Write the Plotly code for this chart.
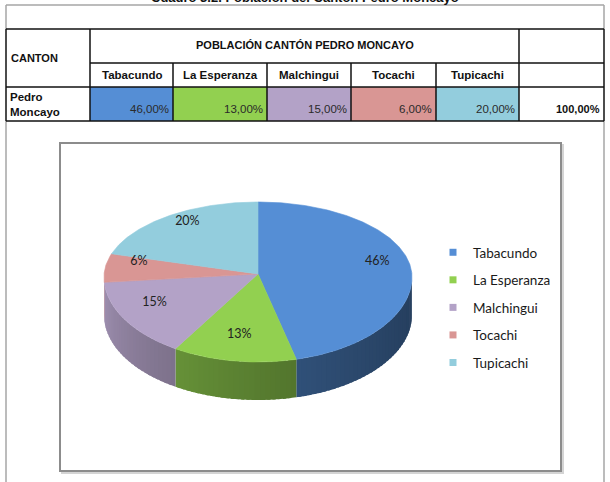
import numpy as np
import plotly.graph_objects as go

# ---------------- data ----------------
categories = ["Tabacundo", "La Esperanza", "Malchingui", "Tocachi", "Tupicachi"]
shares = [46, 13, 15, 6, 20]
colors = ["#558ED5", "#92D050", "#B3A2C7", "#D99694", "#93CDDD"]
title_text = "Cuadro 3.2. Población del Cantón Pedro Moncayo"
header_text = "POBLACIÓN CANTÓN PEDRO MONCAYO"
first_col_label = "CANTON"
row_label = "Pedro<br>Moncayo"

# ---------------- layout geometry (pixels) ----------------
W, H = 610, 482
CX, CY = 258, 277
A, B_BACK, B_FRONT = 154, 75, 85
DEPTH = 38
APEX_Y = 274
col_edges = [90, 173, 267, 351, 436, 519]
TL, TR = 6, 604
ROW_Y = [5, 29, 63, 87, 121]


def ellipse(theta_deg):
    t = np.radians(np.asarray(theta_deg, dtype=float))
    c = np.cos(t)
    x = CX + A * np.sin(t)
    y = CY - np.where(c > 0, B_BACK, B_FRONT) * c
    return x, y


def rgb(hexc):
    hexc = hexc.lstrip("#")
    return [int(hexc[k:k + 2], 16) for k in (0, 2, 4)]


def shade(hexc, f):
    return "rgb(%d,%d,%d)" % tuple(int(round(v * f)) for v in rgb(hexc))


fig = go.Figure()
total = sum(shares)
bounds = np.concatenate([[0], np.cumsum(shares)]) / total * 360.0

# ---- sides of the 3D pie (front half only), drawn as overlapping shaded strips ----
for i, (s, e) in enumerate(zip(bounds[:-1], bounds[1:])):
    lo, hi = max(s, 90.0), min(e, 270.0)
    if hi <= lo:
        continue
    n = max(1, int(np.ceil((hi - lo) / 2.0)))
    edges = np.linspace(lo, hi, n + 1)
    for a0, a1 in zip(edges[:-1], edges[1:]):
        a1x = min(a1 + 1.2, hi)  # overlap the next strip to hide seams
        th = np.linspace(a0, a1x, 4)
        xs, ys = ellipse(th)
        px = np.concatenate([xs, xs[::-1]])
        py = np.concatenate([ys, ys[::-1] + DEPTH])
        t = ((a0 + a1) / 2 - 90) / 180.0
        f = 0.44 + 0.46 * t ** 1.5
        col = shade(colors[i], f)
        fig.add_trace(go.Scatter(x=px, y=py, fill="toself", fillcolor=col, mode="lines",
                                 line=dict(width=0), hoverinfo="skip",
                                 showlegend=False))

# ---- top slices ----
for i, (s, e) in enumerate(zip(bounds[:-1], bounds[1:])):
    th = np.linspace(s, e, max(8, int((e - s) * 1.5)))
    xs, ys = ellipse(th)
    px = np.concatenate([[CX], xs, [CX]])
    py = np.concatenate([[APEX_Y], ys, [APEX_Y]])
    fig.add_trace(go.Scatter(x=px, y=py, fill="toself", fillcolor=colors[i], mode="lines",
                             line=dict(color=colors[i], width=0.6), name=categories[i],
                             hoverinfo="name", showlegend=False))

# ---- slice labels ----
mids = (bounds[:-1] + bounds[1:]) / 2
mx, my = ellipse(mids)
R = 0.78
fig.add_trace(go.Scatter(x=CX + R * (mx - CX), y=CY + R * (my - CY) - 8, mode="text",
                         text=["%d%%" % v for v in shares],
                         textfont=dict(family="Lato", size=12.5, color="#222222"),
                         hoverinfo="skip", showlegend=False))

# ---- legend entries ----
for c, name in zip(colors, categories):
    fig.add_trace(go.Scatter(x=[None], y=[None], mode="markers", name=name, legendgroup=name,
                             marker=dict(symbol="square", size=7, color=c)))

# ---------------- table ----------------
shapes = []
for i, c in enumerate(colors):
    shapes.append(dict(type="rect", xref="x", yref="y", x0=col_edges[i], x1=col_edges[i + 1],
                       y0=ROW_Y[3], y1=ROW_Y[4], fillcolor=c, line=dict(width=0), layer="below"))

grey = dict(color="#a6a6a6", width=1.5)
black = dict(color="#111111", width=1.5)


def hline(y, x0, x1, ln):
    shapes.append(dict(type="line", xref="x", yref="y", x0=x0, x1=x1, y0=y, y1=y, line=ln))


def vline(x, y0, y1, ln):
    shapes.append(dict(type="line", xref="x", yref="y", x0=x, x1=x, y0=y0, y1=y1, line=ln))


hline(ROW_Y[0], TL, TR, grey)
vline(TL, ROW_Y[0], ROW_Y[1], grey)
vline(TR, ROW_Y[0], ROW_Y[1], grey)
vline(TL, ROW_Y[4], H + 2, grey)
vline(TR, ROW_Y[4], H + 2, grey)
hline(ROW_Y[1], TL, TR, black)
hline(ROW_Y[2], col_edges[0], TR, black)
hline(ROW_Y[3], TL, TR, black)
hline(ROW_Y[4], TL, TR, black)
for x in [TL, col_edges[0], col_edges[-1], TR]:
    vline(x, ROW_Y[1], ROW_Y[4], black)
for x in col_edges[1:-1]:
    vline(x, ROW_Y[2], ROW_Y[4], black)

shapes.append(dict(type="rect", xref="x", yref="y", x0=62, x1=563, y0=145, y1=473,
                   line=dict(color="#d4d4d4", width=2), layer="below"))
shapes.append(dict(type="rect", xref="x", yref="y", x0=60, x1=561, y0=143, y1=471,
                   line=dict(color="#8c8c8c", width=2), fillcolor="white", layer="below"))

ann = []
bold = "Liberation Sans"
ann.append(dict(xref="paper", yref="paper", x=0.5, y=1.0 + 3.0 / H, xanchor="center",
                yanchor="middle", text="<b>%s</b>" % title_text, showarrow=False,
                font=dict(family=bold, size=13, color="#111111")))
ann.append(dict(xref="x", yref="y", x=9, y=(ROW_Y[1] + ROW_Y[3]) / 2, xanchor="left",
                yanchor="middle", text="<b>%s</b>" % first_col_label, showarrow=False,
                font=dict(family=bold, size=11, color="#111111")))
ann.append(dict(xref="x", yref="y", x=(col_edges[0] + col_edges[-1]) / 2,
                y=(ROW_Y[1] + ROW_Y[2]) / 2 - 1, xanchor="center", yanchor="middle",
                text="<b>%s</b>" % header_text, showarrow=False,
                font=dict(family=bold, size=11, color="#111111")))
for i, name in enumerate(categories):
    ann.append(dict(xref="x", yref="y", x=(col_edges[i] + col_edges[i + 1]) / 2,
                    y=(ROW_Y[2] + ROW_Y[3]) / 2, xanchor="center", yanchor="middle",
                    text="<b>%s</b>" % name, showarrow=False,
                    font=dict(family=bold, size=11.5, color="#111111")))
    ann.append(dict(xref="x", yref="y", x=col_edges[i + 1] - 2, y=ROW_Y[4] - 12,
                    xanchor="right", yanchor="middle",
                    text=("%.2f%%" % shares[i]).replace(".", ","), showarrow=False,
                    font=dict(family=bold, size=11.5, color="#2a2a2a")))
ann.append(dict(xref="x", yref="y", x=TR - 2, y=ROW_Y[4] - 12, xanchor="right",
                yanchor="middle", text="<b>%s</b>" % ("%.2f%%" % total).replace(".", ","),
                showarrow=False, font=dict(family=bold, size=11, color="#111111")))
ann.append(dict(xref="x", yref="y", x=8, y=(ROW_Y[3] + ROW_Y[4]) / 2, xanchor="left",
                yanchor="middle", text="<b>%s</b>" % row_label, showarrow=False, align="left",
                font=dict(family=bold, size=11.5, color="#111111")))

fig.update_layout(
    width=W, height=H, margin=dict(l=0, r=0, t=0, b=0),
    paper_bgcolor="white", plot_bgcolor="white",
    xaxis=dict(range=[0, W], visible=False, fixedrange=True),
    yaxis=dict(range=[H, 0], visible=False, fixedrange=True),
    shapes=shapes, annotations=ann,
    legend=dict(x=433 / W, y=1 - 237 / H, xanchor="left", yanchor="top",
                traceorder="grouped", tracegroupgap=7, bgcolor="rgba(0,0,0,0)",
                font=dict(family="Lato", size=13.5, color="#1a1a1a")),
)

fig.write_html("out.html")
